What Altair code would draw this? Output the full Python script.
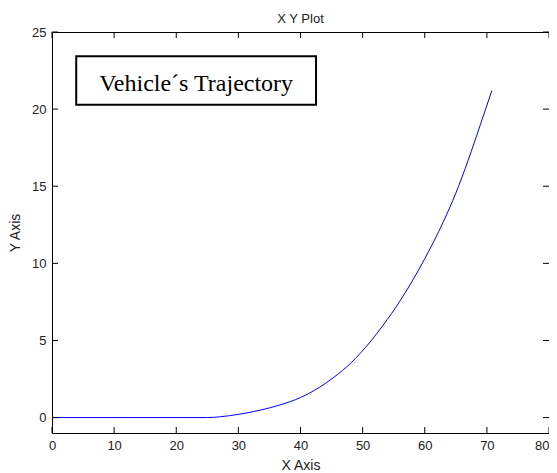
import altair as alt
import pandas as pd

# Trajectory
xs = [0, 10, 20, 25, 27, 30.2, 33.5, 36.7, 40, 43, 45.5, 48, 51.2, 53.3, 56, 60, 63, 65, 67, 69, 70.8]
ys = [0, 0, 0, 0, 0.05, 0.22, 0.48, 0.82, 1.3, 1.95, 2.65, 3.5, 4.9, 5.99, 7.55, 10.3, 12.7, 14.55, 16.7, 19.05, 21.2]

x_ticks = [0, 10, 20, 30, 40, 50, 60, 70, 80]
y_ticks = [0, 5, 10, 15, 20, 25]

# annotation box (data units)
box_x = [3.9, 42.5]
box_y = [20.29, 23.43]
box_text = ["Vehicle´s Trajectory"]
text_pos = [23.2, 21.16]

W, H = 497, 401
TL = 6  # inward tick length

FONT = "Liberation Sans"

xscale = alt.Scale(domain=[0, 80], nice=False, zero=False)
yscale = alt.Scale(domain=[-1, 25], nice=False, zero=False)

xaxis = alt.Axis(values=x_ticks, title="X Axis", tickSize=0, domain=False, grid=False,
                 labelPadding=6, labelFontSize=13, labelFont=FONT, labelColor="#222",
                 labelAlign={"condition": {"test": "datum.value >= 80", "value": "right"}, "value": "center"},
                 titleFont=FONT, titleFontSize=14, titleFontWeight="normal", titleColor="#222",
                 titleBaseline="alphabetic", titleY=36.7, labelFlush=False)
yaxis = alt.Axis(values=y_ticks, title="Y Axis", tickSize=0, domain=False, grid=False,
                 labelPadding=6, labelFontSize=13, labelFont=FONT, labelColor="#222",
                 titleFont=FONT, titleFontSize=14, titleFontWeight="normal", titleColor="#222",
                 titleBaseline="alphabetic", titleX=-32.5, titleAngle=270, labelFlush=False)

df = pd.DataFrame({"x": xs, "y": ys})
xt = pd.DataFrame({"x": x_ticks})
yt = pd.DataFrame({"y": y_ticks})
box = pd.DataFrame({"x": [box_x[0]], "x2": [box_x[1]], "y": [box_y[0]], "y2": [box_y[1]],
                    "tx": [text_pos[0]], "ty": [text_pos[1]], "label": box_text})

line = alt.Chart(df).mark_line(color="#0000ff", strokeWidth=1, interpolate="monotone").encode(
    x=alt.X("x:Q", scale=xscale, axis=xaxis),
    y=alt.Y("y:Q", scale=yscale, axis=yaxis),
)

bottom_ticks = alt.Chart(xt).mark_rule(color="black", strokeWidth=1).encode(
    x=alt.X("x:Q", scale=xscale, axis=xaxis), y=alt.value(H), y2=alt.value(H - TL))
top_ticks = alt.Chart(xt).mark_rule(color="black", strokeWidth=1).encode(
    x=alt.X("x:Q", scale=xscale, axis=xaxis), y=alt.value(0), y2=alt.value(TL))
left_ticks = alt.Chart(yt).mark_rule(color="black", strokeWidth=1).encode(
    y=alt.Y("y:Q", scale=yscale, axis=yaxis), x=alt.value(0), x2=alt.value(TL))
right_ticks = alt.Chart(yt).mark_rule(color="black", strokeWidth=1).encode(
    y=alt.Y("y:Q", scale=yscale, axis=yaxis), x=alt.value(W - TL), x2=alt.value(W))

rect = alt.Chart(box).mark_rect(fill="white", stroke="black", strokeWidth=2).encode(
    x=alt.X("x:Q", scale=xscale, axis=xaxis), x2="x2:Q",
    y=alt.Y("y:Q", scale=yscale, axis=yaxis), y2="y2:Q")
txt = alt.Chart(box).mark_text(font="Liberation Serif", fontSize=24, color="black",
                               align="center", baseline="alphabetic").encode(
    x=alt.X("tx:Q", scale=xscale, axis=xaxis), y=alt.Y("ty:Q", scale=yscale, axis=yaxis), text="label:N")

chart = alt.layer(line, bottom_ticks, top_ticks, left_ticks, right_ticks, rect, txt).properties(
    width=W, height=H,
    title=alt.TitleParams("X Y Plot", font=FONT, fontSize=13, fontWeight="normal", color="#222",
                          anchor="middle", offset=10, dy=10),
    padding={"left": 44, "top": 24, "right": 0, "bottom": 40},
    autosize=alt.AutoSizeParams(type="none"),
).configure(background="white").configure_view(stroke="black", strokeWidth=1)

chart.save("out.html", embed_options={"renderer": "svg", "actions": False})
